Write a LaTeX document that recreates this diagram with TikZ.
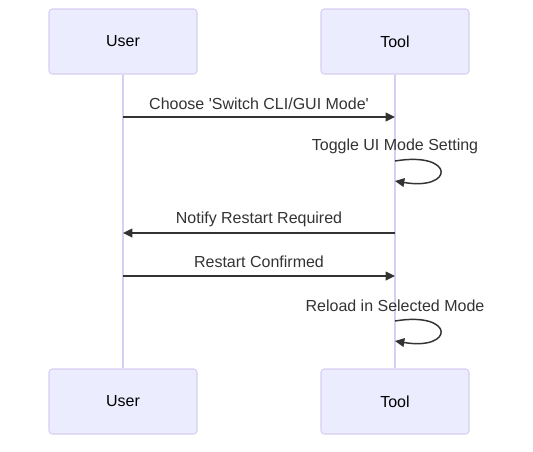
\documentclass[tikz,border=0pt]{standalone}
\usepackage{fontspec}
\setmainfont{Liberation Sans}
\usetikzlibrary{arrows.meta}

\definecolor{actorfill}{HTML}{ECECFF}
\definecolor{actorline}{HTML}{D8CEF3}
\definecolor{msgcolor}{HTML}{333333}

\begin{document}
\begin{tikzpicture}[
		x=0.75pt, y=-0.75pt,
		actor/.style={rectangle, rounded corners=2.5pt, draw=actorline, line width=0.8pt, fill=actorfill, minimum width=111pt, minimum height=48.75pt, font=\fontsize{12}{14}\selectfont},
		lifeline/.style={draw=actorline, line width=1.2pt},
		msg/.style={draw=msgcolor, line width=1.1pt, -{Triangle[length=7pt, width=6.5pt]}},
		msglabel/.style={text=msgcolor, font=\fontsize{12}{14}\selectfont}
		]
		\useasboundingbox (0,0) rectangle (533,451);
		
		% Actors and lifelines
		\foreach \name/\x/\label in {user/123/User, tool/395/Tool}
		{
			\node[actor] (\name top) at (\x,41.5) {\label};
			\node[actor] (\name bot) at (\x,401.5) {\label};
			\draw[lifeline] (\name top) -- (\name bot);
		}
		
		% Message end points on the lifelines
		\foreach \i/\y in {1/117, 3/233, 4/276}
		{
			\coordinate (user\i) at (123,\y);
			\coordinate (tool\i) at (395,\y);
		}
		\coordinate (loopAin) at (395,161);
		\coordinate (loopAout) at (395,181);
		\coordinate (loopBin) at (395,321);
		\coordinate (loopBout) at (395,341);
		
		% Messages
		\draw[msg] (user1) -- (tool1) node[msglabel, midway, yshift=9.75pt] {Choose \textquotesingle Switch CLI/GUI Mode\textquotesingle};
		\draw[msg] (loopAin) .. controls +(60,-10) and +(60,10) .. (loopAout);
		\node[msglabel] (loopAlabel) at (395,146) {Toggle UI Mode Setting};
		\draw[msg] (tool3) -- (user3) node[msglabel, midway, yshift=10.5pt] {Notify Restart Required};
		\draw[msg] (user4) -- (tool4) node[msglabel, midway, yshift=10.5pt] {Restart Confirmed};
		\draw[msg] (loopBin) .. controls +(60,-10) and +(60,10) .. (loopBout);
		\node[msglabel] (loopBlabel) at (395,306) {Reload in Selected Mode};
		
	\end{tikzpicture}
\end{document}
